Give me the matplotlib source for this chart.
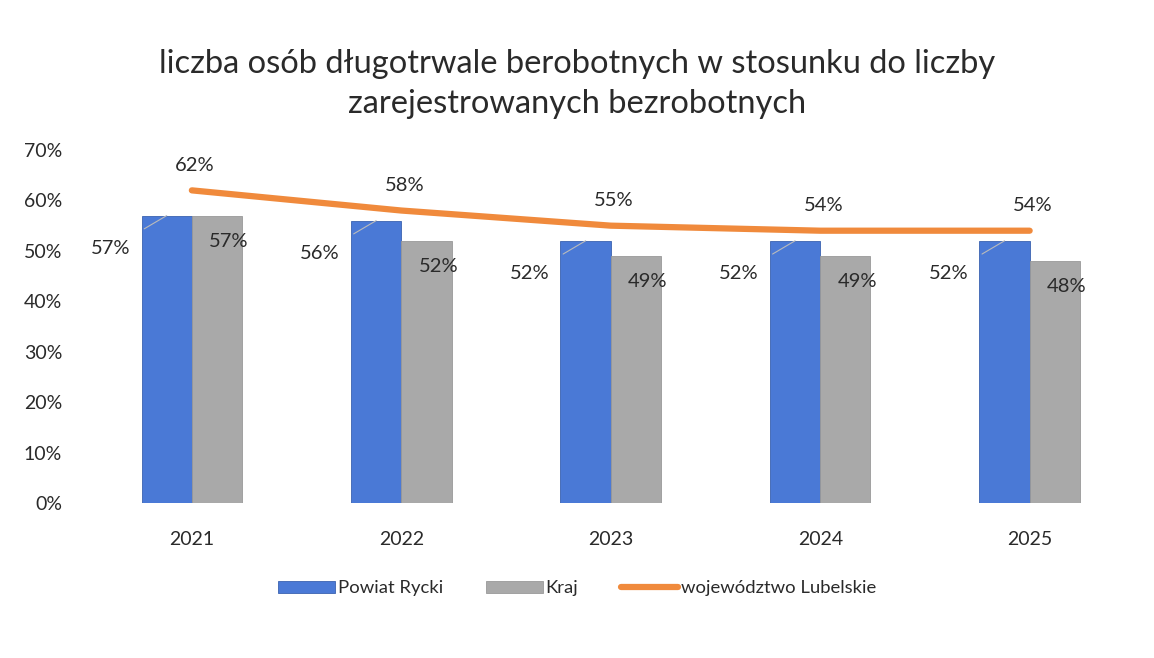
import matplotlib.pyplot as plt
import numpy as np

plt.rcParams['font.family'] = ['Lato', 'DejaVu Sans']

years = ['2021', '2022', '2023', '2024', '2025']
powiat = [0.57, 0.56, 0.52, 0.52, 0.52]
kraj = [0.57, 0.52, 0.49, 0.49, 0.48]
lubelskie = [0.62, 0.58, 0.55, 0.54, 0.54]

blue = '#4a79d6'
grey = '#a9a9a9'
orange = '#f08a3c'
txt = '#2a2a2a'

fig = plt.figure(figsize=(11.54, 6.58), dpi=100)
ax = fig.add_axes([0.0755, 0.2356, 0.9075, 0.5364])

x = np.arange(len(years))
w = 0.24
b1 = ax.bar(x - w/2, powiat, w, color=blue, edgecolor='#3a62b0', linewidth=0.6, label='Powiat Rycki')
b2 = ax.bar(x + w/2, kraj, w, color=grey, edgecolor='#999999', linewidth=0.6, label='Kraj')
l1, = ax.plot(x, lubelskie, color=orange, lw=4.5, solid_capstyle='round', label='województwo Lubelskie')

for i in range(len(years)):
    ax.annotate(f'{powiat[i]*100:.0f}%', (x[i] - w/2, powiat[i]), xytext=(-56, -33),
                textcoords='offset pixels', ha='center', va='center', fontsize=14.5, color=txt,
                arrowprops=dict(arrowstyle='-', color='#bbbbbb', lw=0.8, shrinkA=12, shrinkB=0))
    ax.annotate(f'{kraj[i]*100:.0f}%', (x[i] + w/2, kraj[i]), xytext=(12, -26),
                textcoords='offset pixels', ha='center', va='center', fontsize=14.5, color=txt)
    ax.annotate(f'{lubelskie[i]*100:.0f}%', (x[i], lubelskie[i]), xytext=(3, 25),
                textcoords='offset pixels', ha='center', va='center', fontsize=14.5, color=txt)

ax.set_xlim(-0.5, len(years) - 0.5)
ax.set_ylim(0, 0.7)
ticks = np.arange(0, 0.71, 0.1)
ax.set_yticks(ticks)
ax.set_yticklabels([f'{v*100:.0f}%' for v in ticks], fontsize=14, color=txt)
ax.set_xticks(x)
ax.set_xticklabels(years, fontsize=14, color=txt)
ax.tick_params(length=0)
ax.tick_params(axis='x', pad=20)
ax.tick_params(axis='y', pad=18)
for s in ax.spines.values():
    s.set_visible(False)

fig.suptitle('liczba osób długotrwale berobotnych w stosunku do liczby\nzarejestrowanych bezrobotnych',
             fontsize=23.5, color=txt, y=0.925, linespacing=1.4)

fig.legend([b1, b2, l1], ['Powiat Rycki', 'Kraj', 'województwo Lubelskie'],
           loc='center', bbox_to_anchor=(0.5, 0.106), ncol=3, frameon=False, fontsize=13.3,
           handlelength=3.1, handleheight=0.6, handletextpad=0.15, columnspacing=2.3,
           labelcolor=txt)

fig.savefig('out.png', dpi=100)
